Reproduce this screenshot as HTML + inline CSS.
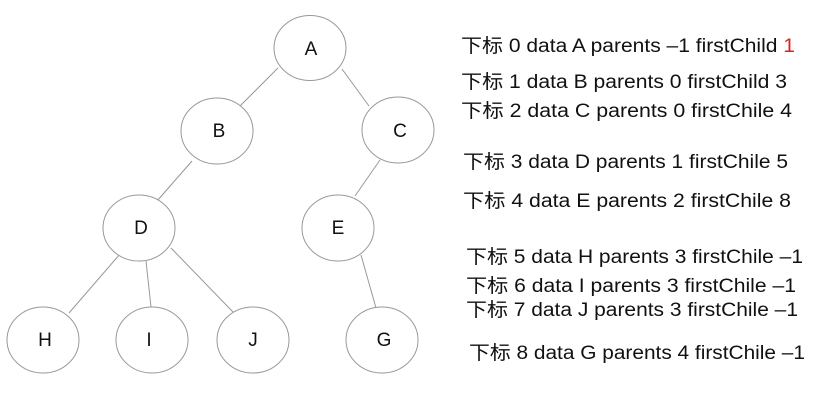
<!DOCTYPE html>
<html><head><meta charset="utf-8"><style>
html,body{margin:0;padding:0;background:#fff;}
svg{display:block;}
text{font-family:"Liberation Sans","Noto Sans CJK SC",sans-serif;fill:#111;}
</style></head><body>
<svg width="831" height="402" viewBox="0 0 831 402">
<g stroke="#999" stroke-width="1" fill="none">
<line x1="278" y1="68" x2="239" y2="107"/>
<line x1="342" y1="69" x2="369" y2="106"/>
<line x1="192" y1="161" x2="157" y2="201"/>
<line x1="380" y1="160" x2="355" y2="196"/>
<line x1="120" y1="254" x2="69" y2="313"/>
<line x1="146" y1="261" x2="151" y2="307"/>
<line x1="171" y1="248" x2="233" y2="312"/>
<line x1="361" y1="255" x2="376" y2="308"/>
</g>
<g stroke="#999" stroke-width="1" fill="#fff">
<ellipse cx="310" cy="48" rx="36" ry="32.5"/>
<ellipse cx="217" cy="131" rx="36" ry="33"/>
<ellipse cx="398" cy="130" rx="36" ry="33"/>
<ellipse cx="139" cy="228" rx="36" ry="33"/>
<ellipse cx="338" cy="228" rx="36" ry="33"/>
<ellipse cx="43" cy="340" rx="36" ry="33"/>
<ellipse cx="152" cy="340" rx="36" ry="33"/>
<ellipse cx="253" cy="340" rx="36" ry="33"/>
<ellipse cx="382" cy="340" rx="36" ry="33"/>
</g>
<g font-size="19" text-anchor="middle">
<text x="311" y="55">A</text>
<text x="219" y="137">B</text>
<text x="400" y="137">C</text>
<text x="141" y="234">D</text>
<text x="338" y="234">E</text>
<text x="45" y="346">H</text>
<text x="149" y="346">I</text>
<text x="253" y="346">J</text>
<text x="384" y="346">G</text>
</g>
<g font-size="19">
<text x="461" y="52" textLength="334" lengthAdjust="spacingAndGlyphs">下标 0 data A parents –1 firstChild <tspan fill="#e02020">1</tspan></text>
<text x="461" y="88" textLength="326" lengthAdjust="spacingAndGlyphs">下标 1 data B parents 0 firstChild 3</text>
<text x="461" y="117" textLength="331" lengthAdjust="spacingAndGlyphs">下标 2 data C parents 0 firstChile 4</text>
<text x="463" y="168" textLength="325" lengthAdjust="spacingAndGlyphs">下标 3 data D parents 1 firstChile 5</text>
<text x="463" y="207" textLength="328" lengthAdjust="spacingAndGlyphs">下标 4 data E parents 2 firstChile 8</text>
<text x="466" y="263" textLength="337" lengthAdjust="spacingAndGlyphs">下标 5 data H parents 3 firstChile –1</text>
<text x="466" y="292" textLength="330" lengthAdjust="spacingAndGlyphs">下标 6 data I parents 3 firstChile –1</text>
<text x="466" y="316" textLength="332" lengthAdjust="spacingAndGlyphs">下标 7 data J parents 3 firstChile –1</text>
<text x="469" y="359" textLength="336" lengthAdjust="spacingAndGlyphs">下标 8 data G parents 4 firstChile –1</text>
</g>
</svg>
</body></html>
